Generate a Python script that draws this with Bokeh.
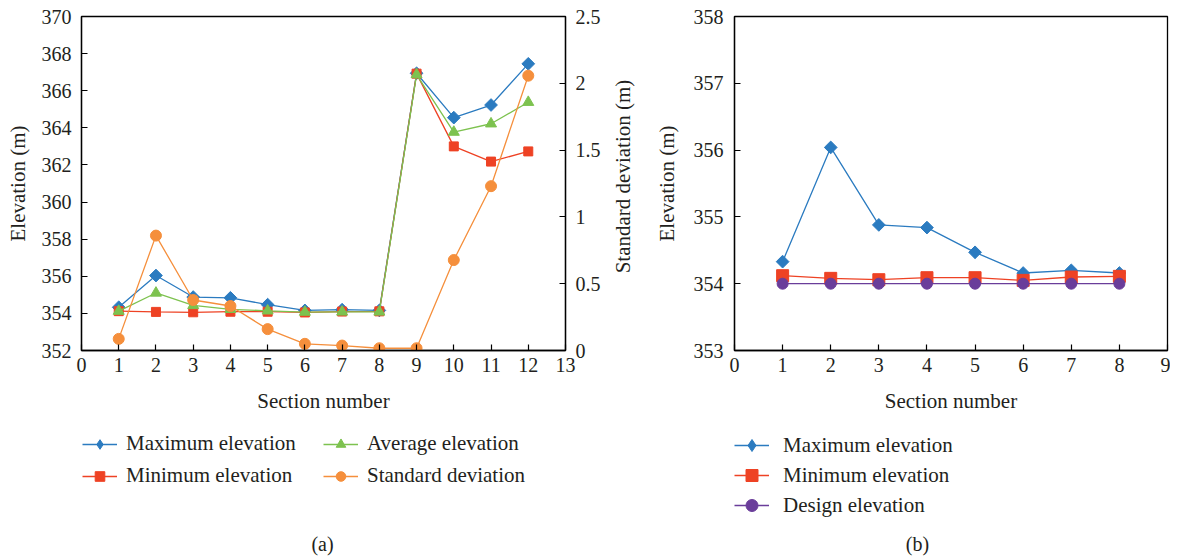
import math
from bokeh.plotting import figure
from bokeh.models import (Range1d, LinearAxis, FixedTicker, Legend, LegendItem, Label)
from bokeh.layouts import row, column
from bokeh.embed import file_html
from bokeh.resources import INLINE

# ---------------- data (a) ----------------
sections_a = [1, 2, 3, 4, 5, 6, 7, 8, 9, 10, 11, 12]
max_elev_a = [354.33, 356.04, 354.88, 354.84, 354.47, 354.16, 354.20, 354.16, 366.94, 364.55, 365.23, 367.45]
min_elev_a = [354.12, 354.08, 354.06, 354.09, 354.09, 354.05, 354.10, 354.11, 366.92, 363.00, 362.18, 362.73]
avg_elev_a = [354.12, 355.10, 354.43, 354.22, 354.14, 354.07, 354.08, 354.08, 366.87, 363.77, 364.22, 365.38]
std_dev_a = [0.087, 0.860, 0.378, 0.333, 0.160, 0.050, 0.037, 0.017, 0.017, 0.677, 1.230, 2.057]

# ---------------- data (b) ----------------
sections_b = [1, 2, 3, 4, 5, 6, 7, 8]
max_elev_b = [354.33, 356.04, 354.88, 354.84, 354.47, 354.16, 354.20, 354.16]
min_elev_b = [354.12, 354.08, 354.06, 354.09, 354.09, 354.05, 354.10, 354.11]
design_elev_b = [354.0, 354.0, 354.0, 354.0, 354.0, 354.0, 354.0, 354.0]

x_ticks_a = list(range(0, 14))
y_ticks_a = [352, 354, 356, 358, 360, 362, 364, 366, 368, 370]
std_ticks = [0, 0.5, 1, 1.5, 2, 2.5]
x_ticks_b = list(range(0, 10))
y_ticks_b = [353, 354, 355, 356, 357, 358]

labels_a = ["Maximum elevation", "Minimum elevation", "Average elevation", "Standard deviation"]
labels_b = ["Maximum elevation", "Minimum elevation", "Design elevation"]

BLUE = "#2B7BC0"
RED = "#EE4224"
GREEN = "#7DC24F"
ORANGE = "#F58F3C"
PURPLE = "#6A3D9A"
TXT = "#231F20"
FONT = "Liberation Serif"

TOP_H = 420
BOT_H = 136


def style_axis(ax, standoff, label_standoff):
    ax.major_tick_in = 6
    ax.major_tick_out = 0
    ax.minor_tick_in = 0
    ax.minor_tick_out = 0
    ax.axis_line_color = "black"
    ax.axis_line_width = 1.3
    ax.major_tick_line_color = "black"
    ax.major_tick_line_width = 1.2
    ax.major_label_text_font = FONT
    ax.major_label_text_font_size = "20px"
    ax.major_label_text_color = TXT
    ax.major_label_standoff = standoff
    ax.axis_label_text_font = FONT
    ax.axis_label_text_font_size = "21px"
    ax.axis_label_text_font_style = "normal"
    ax.axis_label_text_color = TXT
    ax.axis_label_standoff = label_standoff


def style_legend(lg, gh):
    lg.label_text_font = FONT
    lg.label_text_font_size = "21px"
    lg.label_text_color = TXT
    lg.glyph_width = 35
    lg.glyph_height = gh
    lg.label_height = gh
    lg.padding = 0
    lg.margin = 0
    lg.border_line_color = None
    lg.background_fill_alpha = 0


def blank_fig(w, h):
    f = figure(width=w, height=h, output_backend="svg", toolbar_location=None,
               x_axis_location=None, y_axis_location=None,
               x_range=Range1d(-2, -1), y_range=Range1d(-2, -1),
               min_border_left=0, min_border_right=0, min_border_top=0, min_border_bottom=0)
    f.grid.visible = False
    f.outline_line_color = None
    return f


def add_series(f, xs, ys, color, marker, size, angle=0.0, **kw):
    ln = f.line(xs, ys, line_color=color, line_width=1.3, **kw)
    sc = f.scatter(xs, ys, marker=marker, size=size, angle=angle,
                   fill_color=color, line_color=color, **kw)
    return [ln, sc]


# ---------------- figure (a) ----------------
pa = figure(frame_width=484, frame_height=334, output_backend="svg", toolbar_location=None,
            x_range=Range1d(0, 13), y_range=Range1d(352, 370),
            min_border_left=81, min_border_right=45, min_border_top=16, min_border_bottom=70)
pa.extra_y_ranges = {"std": Range1d(0, 2.5)}
pa.grid.visible = False
pa.outline_line_color = "black"
pa.outline_line_width = 1.3

pa.xaxis.ticker = FixedTicker(ticks=x_ticks_a)
pa.yaxis.ticker = FixedTicker(ticks=y_ticks_a)
pa.xaxis.axis_label = "Section number"
pa.yaxis.axis_label = "Elevation (m)"
style_axis(pa.xaxis[0], 7, 14)
style_axis(pa.yaxis[0], 10, 9)

ra = LinearAxis(y_range_name="std", ticker=FixedTicker(ticks=std_ticks))
ra.major_label_overrides = {0: "0", 0.5: "0.5", 1: "1", 1.5: "1.5", 2: "2", 2.5: "2.5"}
style_axis(ra, 10, 14)
pa.add_layout(ra, "right")

add_series(pa, sections_a, max_elev_a, BLUE, "square", 9, angle=math.pi / 4)
add_series(pa, sections_a, min_elev_a, RED, "square", 9)
add_series(pa, sections_a, avg_elev_a, GREEN, "triangle", 11)
add_series(pa, sections_a, std_dev_a, ORANGE, "circle", 11, y_range_name="std")

# right axis title (reads bottom-to-top, as in the reference)
ps = blank_fig(40, TOP_H)
ps.add_layout(Label(x=12, y=174, x_units="screen", y_units="screen",
                    text="Standard deviation (m)", angle=math.pi / 2,
                    text_align="center", text_baseline="middle", text_font=FONT,
                    text_font_size="21px", text_color=TXT))

# ---------------- figure (b) ----------------
pb = figure(frame_width=433, frame_height=334, output_backend="svg", toolbar_location=None,
            x_range=Range1d(0, 9), y_range=Range1d(353, 358),
            min_border_left=84, min_border_right=3, min_border_top=16, min_border_bottom=70)
pb.grid.visible = False
pb.outline_line_color = "black"
pb.outline_line_width = 1.3
pb.xaxis.ticker = FixedTicker(ticks=x_ticks_b)
pb.yaxis.ticker = FixedTicker(ticks=y_ticks_b)
pb.xaxis.axis_label = "Section number"
pb.yaxis.axis_label = "Elevation (m)"
style_axis(pb.xaxis[0], 7, 14)
style_axis(pb.yaxis[0], 11, 12)

add_series(pb, sections_b, max_elev_b, BLUE, "square", 9, angle=math.pi / 4)
add_series(pb, sections_b, min_elev_b, RED, "square", 12)
add_series(pb, sections_b, design_elev_b, PURPLE, "circle", 11)

# ---------------- legend + caption (a) ----------------
la = blank_fig(650, BOT_H)
ra_max = add_series(la, sections_a, max_elev_a, BLUE, "diamond", 9)
ra_min = add_series(la, sections_a, min_elev_a, RED, "square", 9)
ra_avg = add_series(la, sections_a, avg_elev_a, GREEN, "triangle", 11)
ra_std = add_series(la, sections_a, std_dev_a, ORANGE, "circle", 11)
lega = Legend(items=[
    LegendItem(label=labels_a[0], renderers=ra_max),
    LegendItem(label=labels_a[1], renderers=ra_min),
    LegendItem(label=labels_a[2], renderers=ra_avg),
    LegendItem(label=labels_a[3], renderers=ra_std),
], location=(82, 68), ncols=2)
style_legend(lega, 24)
lega.spacing = 7
lega.label_standoff = 9
lega.label_width = 190
la.add_layout(lega, "center")
la.add_layout(Label(x=322, y=13, x_units="screen", y_units="screen", text="(a)",
                    text_align="center", text_baseline="middle", text_font=FONT,
                    text_font_size="20px", text_color=TXT))

# ---------------- legend + caption (b) ----------------
lb = blank_fig(520, BOT_H)
rb_max = add_series(lb, sections_b, max_elev_b, BLUE, "diamond", 9)
rb_min = add_series(lb, sections_b, min_elev_b, RED, "square", 12)
rb_des = add_series(lb, sections_b, design_elev_b, PURPLE, "circle", 11)
legb = Legend(items=[
    LegendItem(label=labels_b[0], renderers=rb_max),
    LegendItem(label=labels_b[1], renderers=rb_min),
    LegendItem(label=labels_b[2], renderers=rb_des),
], location=(84, 36))
style_legend(legb, 30)
legb.spacing = 0
legb.label_standoff = 14
lb.add_layout(legb, "center")
lb.add_layout(Label(x=267, y=13, x_units="screen", y_units="screen", text="(b)",
                    text_align="center", text_baseline="middle", text_font=FONT,
                    text_font_size="20px", text_color=TXT))

layout = column(row(pa, ps, pb), row(la, lb))
open("out.html", "w").write(file_html(layout, INLINE))
